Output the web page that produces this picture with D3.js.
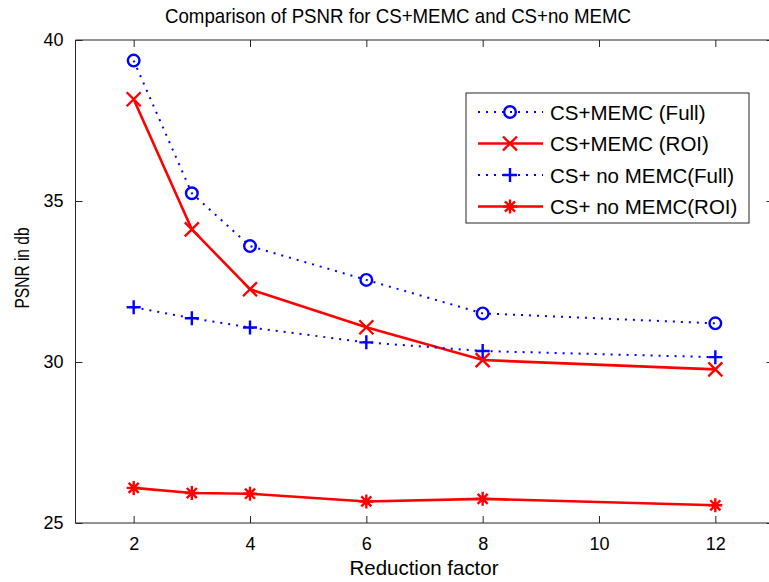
<!DOCTYPE html>
<html>
<head>
<meta charset="utf-8">
<script src="https://cdn.jsdelivr.net/npm/d3@7"></script>
<style>
  body { margin: 0; background: #fff; }
  .narrow { font-family: "Liberation Sans Narrow", "Arial Narrow", "Liberation Sans", sans-serif; }
</style>
</head>
<body>
<div class="visual"></div>
<script>
const width = 769;
const height = 582;

// data
const reduction = [2, 3, 4, 6, 8, 12];
const memcFull = [39.36, 35.24, 33.6, 32.55, 31.51, 31.2];
const memcRoi = [38.16, 34.12, 32.26, 31.08, 30.06, 29.77];
const noMemcFull = [31.7, 31.36, 31.07, 30.61, 30.34, 30.15];
const noMemcRoi = [26.09, 25.93, 25.91, 25.67, 25.75, 25.55];
const xTicks = [2, 4, 6, 8, 10, 12];
const yTicks = [25, 30, 35, 40];

const series = [
  { name: "CS+MEMC (Full)", values: memcFull, color: "#0000ff", dotted: true, marker: "circle" },
  { name: "CS+MEMC (ROI)", values: memcRoi, color: "#ff0000", dotted: false, marker: "x" },
  { name: "CS+ no MEMC(Full)", values: noMemcFull, color: "#0000ff", dotted: true, marker: "plus" },
  { name: "CS+ no MEMC(ROI)", values: noMemcRoi, color: "#ff0000", dotted: false, marker: "star" }
];

const svg = d3
  .select(".visual")
  .append("svg")
  .attr("width", width)
  .attr("height", height);

const x = d3.scaleLinear().domain([1, 13]).range([75.5, 773.5]);
const y = d3.scaleLinear().domain([25, 40]).range([523, 40]);

// axes box
const axisColor = "#262626";
svg.append("line").attr("x1", x(1)).attr("x2", x(13)).attr("y1", y(25)).attr("y2", y(25)).attr("stroke", axisColor);
svg.append("line").attr("x1", x(1)).attr("x2", x(13)).attr("y1", y(40)).attr("y2", y(40)).attr("stroke", axisColor);
svg.append("line").attr("x1", x(1)).attr("x2", x(1)).attr("y1", y(25)).attr("y2", y(40)).attr("stroke", axisColor);
svg.append("line").attr("x1", x(13)).attr("x2", x(13)).attr("y1", y(25)).attr("y2", y(40)).attr("stroke", axisColor);

// inward ticks (bottom + mirrored top)
const tickLen = 7;
svg.append("g")
  .attr("transform", `translate(0,${y(25)})`)
  .call(d3.axisBottom(x).tickValues(xTicks).tickSizeInner(-tickLen).tickSizeOuter(0).tickPadding(14))
  .call((g) => g.select(".domain").remove())
  .call((g) => g.selectAll("line").attr("stroke", axisColor))
  .call((g) => g.selectAll("text").attr("class", "narrow").attr("font-size", 18).attr("fill", "#000"));

svg.append("g")
  .attr("transform", `translate(0,${y(40)})`)
  .call(d3.axisTop(x).tickValues(xTicks).tickSizeInner(-tickLen).tickSizeOuter(0).tickFormat(""))
  .call((g) => g.select(".domain").remove())
  .call((g) => g.selectAll("line").attr("stroke", axisColor));

svg.append("g")
  .attr("transform", `translate(${x(1)},0)`)
  .call(d3.axisLeft(y).tickValues(yTicks).tickSizeInner(-tickLen).tickSizeOuter(0).tickPadding(12))
  .call((g) => g.select(".domain").remove())
  .call((g) => g.selectAll("line").attr("stroke", axisColor))
  .call((g) => g.selectAll("text").attr("class", "narrow").attr("font-size", 18).attr("fill", "#000"));

svg.append("g")
  .attr("transform", `translate(${x(13)},0)`)
  .call(d3.axisRight(y).tickValues(yTicks).tickSizeInner(-tickLen).tickSizeOuter(0).tickFormat(""))
  .call((g) => g.select(".domain").remove())
  .call((g) => g.selectAll("line").attr("stroke", axisColor));

// titles
svg.append("text")
  .attr("class", "narrow")
  .attr("x", 398).attr("y", 23)
  .attr("text-anchor", "middle")
  .attr("font-size", 21)
  .attr("textLength", 466)
  .attr("lengthAdjust", "spacingAndGlyphs")
  .text("Comparison of PSNR for CS+MEMC and CS+no MEMC");

svg.append("text")
  .attr("class", "narrow")
  .attr("x", 424).attr("y", 575)
  .attr("text-anchor", "middle")
  .attr("font-size", 21)
  .attr("textLength", 149)
  .attr("lengthAdjust", "spacingAndGlyphs")
  .text("Reduction factor");

svg.append("text")
  .attr("class", "narrow")
  .attr("transform", "translate(29,268) rotate(-90)")
  .attr("text-anchor", "middle")
  .attr("font-size", 21)
  .attr("textLength", 81)
  .attr("lengthAdjust", "spacingAndGlyphs")
  .text("PSNR in db");

// marker shapes
function markerPath(type) {
  const s = 7;
  if (type === "x") return `M${-s},${-s}L${s},${s}M${-s},${s}L${s},${-s}`;
  if (type === "plus") return `M${-s},0L${s},0M0,${-s}L0,${s}`;
  if (type === "star") {
    const d = s * 0.72;
    return `M${-s},0L${s},0M0,${-s}L0,${s}M${-d},${-d}L${d},${d}M${-d},${d}L${d},${-d}`;
  }
  return null;
}

function drawMarker(g, type, color) {
  if (type === "circle") {
    g.append("circle").attr("r", 5.8).attr("fill", "none").attr("stroke", color).attr("stroke-width", 2.4);
  } else {
    g.append("path").attr("d", markerPath(type)).attr("fill", "none").attr("stroke", color).attr("stroke-width", 2.4);
  }
}

const line = d3.line()
  .x((d) => x(d[0]))
  .y((d) => y(d[1]));

series.forEach((s) => {
  const pts = reduction.map((r, i) => [r, s.values[i]]);
  svg.append("path")
    .datum(pts)
    .attr("d", line)
    .attr("fill", "none")
    .attr("stroke", s.color)
    .attr("stroke-width", s.dotted ? 2 : 2.6)
    .attr("stroke-dasharray", s.dotted ? "2,6" : null);

  pts.forEach((p) => {
    const g = svg.append("g").attr("transform", `translate(${x(p[0])},${y(p[1])})`);
    drawMarker(g, s.marker, s.color);
  });
});

// legend
const legend = svg.append("g");
legend.append("rect")
  .attr("x", 466).attr("y", 93)
  .attr("width", 283).attr("height", 130)
  .attr("fill", "#fff")
  .attr("stroke", axisColor);

series.forEach((s, i) => {
  const ly = 112 + i * 31.5;
  legend.append("line")
    .attr("x1", 478).attr("x2", 543)
    .attr("y1", ly).attr("y2", ly)
    .attr("stroke", s.color)
    .attr("stroke-width", s.dotted ? 2 : 2.6)
    .attr("stroke-dasharray", s.dotted ? "2,6" : null);
  const g = legend.append("g").attr("transform", `translate(510,${ly})`);
  drawMarker(g, s.marker, s.color);
  legend.append("text")
    .attr("x", 550).attr("y", ly + 7.5)
    .attr("font-family", "Liberation Sans, Arial, sans-serif")
    .attr("font-size", 20.5)
    .text(s.name);
});
</script>
</body>
</html>
